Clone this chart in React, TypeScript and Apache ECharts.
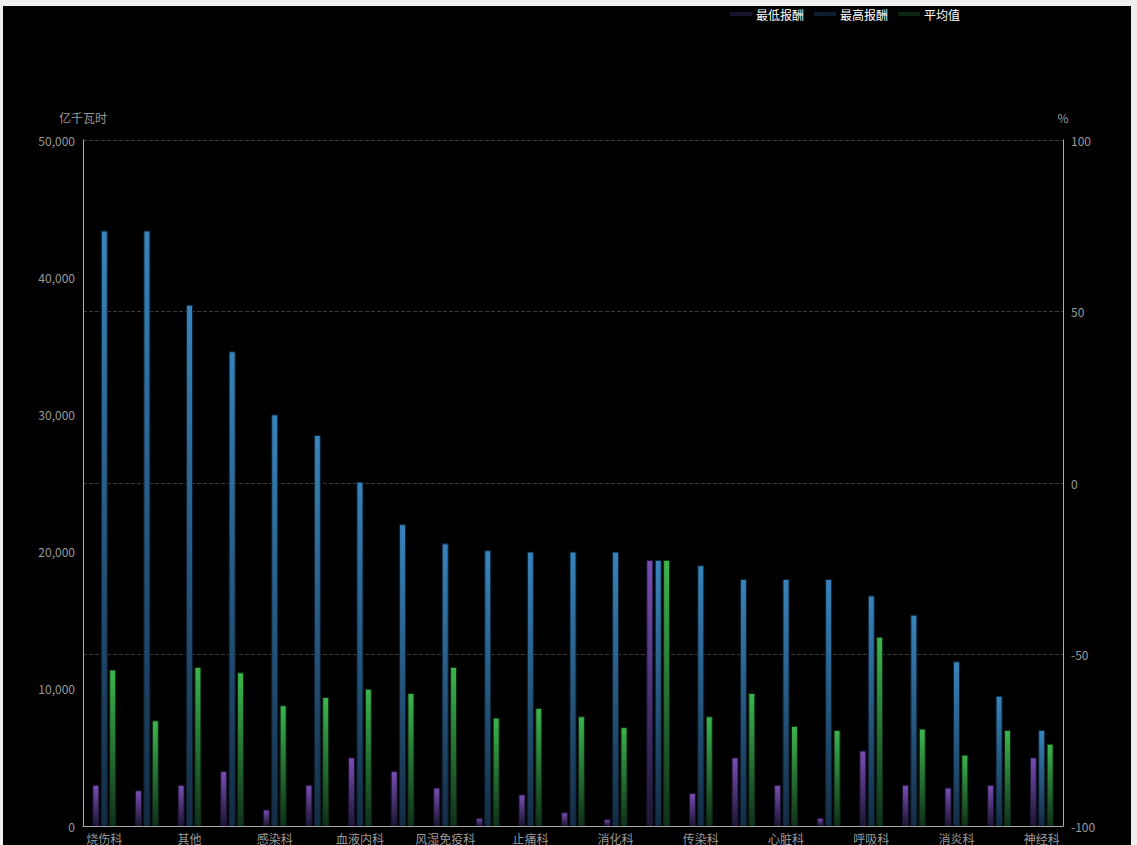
import React, { useEffect, useRef } from "react";
import * as echarts from "echarts";

const categories = [
  "烧伤科", "骨科", "其他", "眼科", "感染科", "儿科", "血液内科", "肾内科",
  "风湿免疫科", "皮肤科", "止痛科", "妇产科", "消化科", "内分泌科", "传染科",
  "肿瘤科", "心脏科", "泌尿科", "呼吸科", "口腔科", "消炎科", "耳鼻喉科", "神经科",
];

const minPay = [
  3000, 2600, 3000, 4000, 1200, 3000, 5000, 4000, 2800, 600, 2300, 1000,
  500, 19400, 2400, 5000, 3000, 600, 5500, 3000, 2800, 3000, 5000,
];

const maxPay = [
  43400, 43400, 38000, 34600, 30000, 28500, 25100, 22000, 20600, 20100, 20000,
  20000, 20000, 19400, 19000, 18000, 18000, 18000, 16800, 15400, 12000, 9500, 7000,
];

const avgPay = [
  11400, 7700, 11600, 11200, 8800, 9400, 10000, 9700, 11600, 7900, 8600, 8000,
  7200, 19400, 8000, 9700, 7300, 7000, 13800, 7100, 5200, 7000, 6000,
];

const leftTicks = { min: 0, max: 50000, interval: 10000 };
const rightTicks = { min: -100, max: 100, interval: 50 };

function grad(top: string, bottom: string) {
  return new echarts.graphic.LinearGradient(0, 0, 0, 1, [
    { offset: 0, color: top },
    { offset: 1, color: bottom },
  ]);
}

export default function App() {
  const ref = useRef<HTMLDivElement>(null);

  useEffect(() => {
    document.body.style.background = "#efefef";
    document.body.style.overflow = "hidden";
    if (!ref.current) return;
    const chart = echarts.init(ref.current, null, { renderer: "svg" });
    const font = "'Microsoft YaHei', 'Noto Sans CJK SC', sans-serif";
    const barCommon = {
      type: "bar" as const,
      barWidth: 7,
      barGap: "20%",
    };
    chart.setOption({
      animation: false,
      backgroundColor: "#000000",
      textStyle: { fontFamily: font },
      legend: {
        left: 722,
        top: -3,
        icon: "rect",
        itemWidth: 20,
        itemHeight: 2,
        itemGap: 10,
        textStyle: { color: "#ffffff", fontSize: 12, fontFamily: font },
        data: [
          { name: "最低报酬", itemStyle: { color: "#4a3a85" } },
          { name: "最高报酬", itemStyle: { color: "#225a85" } },
          { name: "平均值", itemStyle: { color: "#238a38" } },
        ],
      },
      grid: { left: 80, right: 68, top: 134, bottom: 40, containLabel: false },
      xAxis: {
        type: "category",
        data: categories,
        axisLine: { lineStyle: { color: "#aaaaaa" } },
        axisTick: { show: false },
        axisLabel: { color: "#9a9a9a", fontSize: 12, interval: 1, margin: 6, fontFamily: font },
        splitLine: { show: false },
      },
      yAxis: [
        {
          type: "value",
          name: "亿千瓦时",
          nameGap: 17,
          nameTextStyle: { color: "#9a9a9a", fontSize: 12, fontFamily: font },
          min: leftTicks.min,
          max: leftTicks.max,
          interval: leftTicks.interval,
          axisLine: { show: true, lineStyle: { color: "#aaaaaa" } },
          axisTick: { show: false },
          axisLabel: { color: "#9a9a9a", fontSize: 12, fontFamily: font },
          splitLine: { show: false },
        },
        {
          type: "value",
          name: "%",
          nameGap: 17,
          nameTextStyle: { color: "#9a9a9a", fontSize: 12, fontFamily: font },
          min: rightTicks.min,
          max: rightTicks.max,
          interval: rightTicks.interval,
          axisLine: { show: true, lineStyle: { color: "#aaaaaa" } },
          axisTick: { show: false },
          axisLabel: { color: "#9a9a9a", fontSize: 12, fontFamily: font },
          splitLine: { show: true, lineStyle: { color: "#3a3a3a", type: "dashed" } },
        },
      ],
      series: [
        {
          ...barCommon,
          name: "最低报酬",
          data: minPay,
          itemStyle: {
            color: grad("#7a4db5", "#1c1733"),
            borderColor: "#1a1230",
            borderWidth: 1,
          },
        },
        {
          ...barCommon,
          name: "最高报酬",
          data: maxPay,
          itemStyle: {
            color: grad("#3784bd", "#142c44"),
            borderColor: "#0c1f30",
            borderWidth: 1,
          },
        },
        {
          ...barCommon,
          name: "平均值",
          data: avgPay,
          itemStyle: {
            color: grad("#3cb54c", "#10301a"),
            borderColor: "#0c2612",
            borderWidth: 1,
          },
        },
      ],
    });
    return () => chart.dispose();
  }, []);

  return (
    <div
      ref={ref}
      style={{ position: "fixed", left: 3, top: 6, width: 1128, height: 860 }}
    />
  );
}
